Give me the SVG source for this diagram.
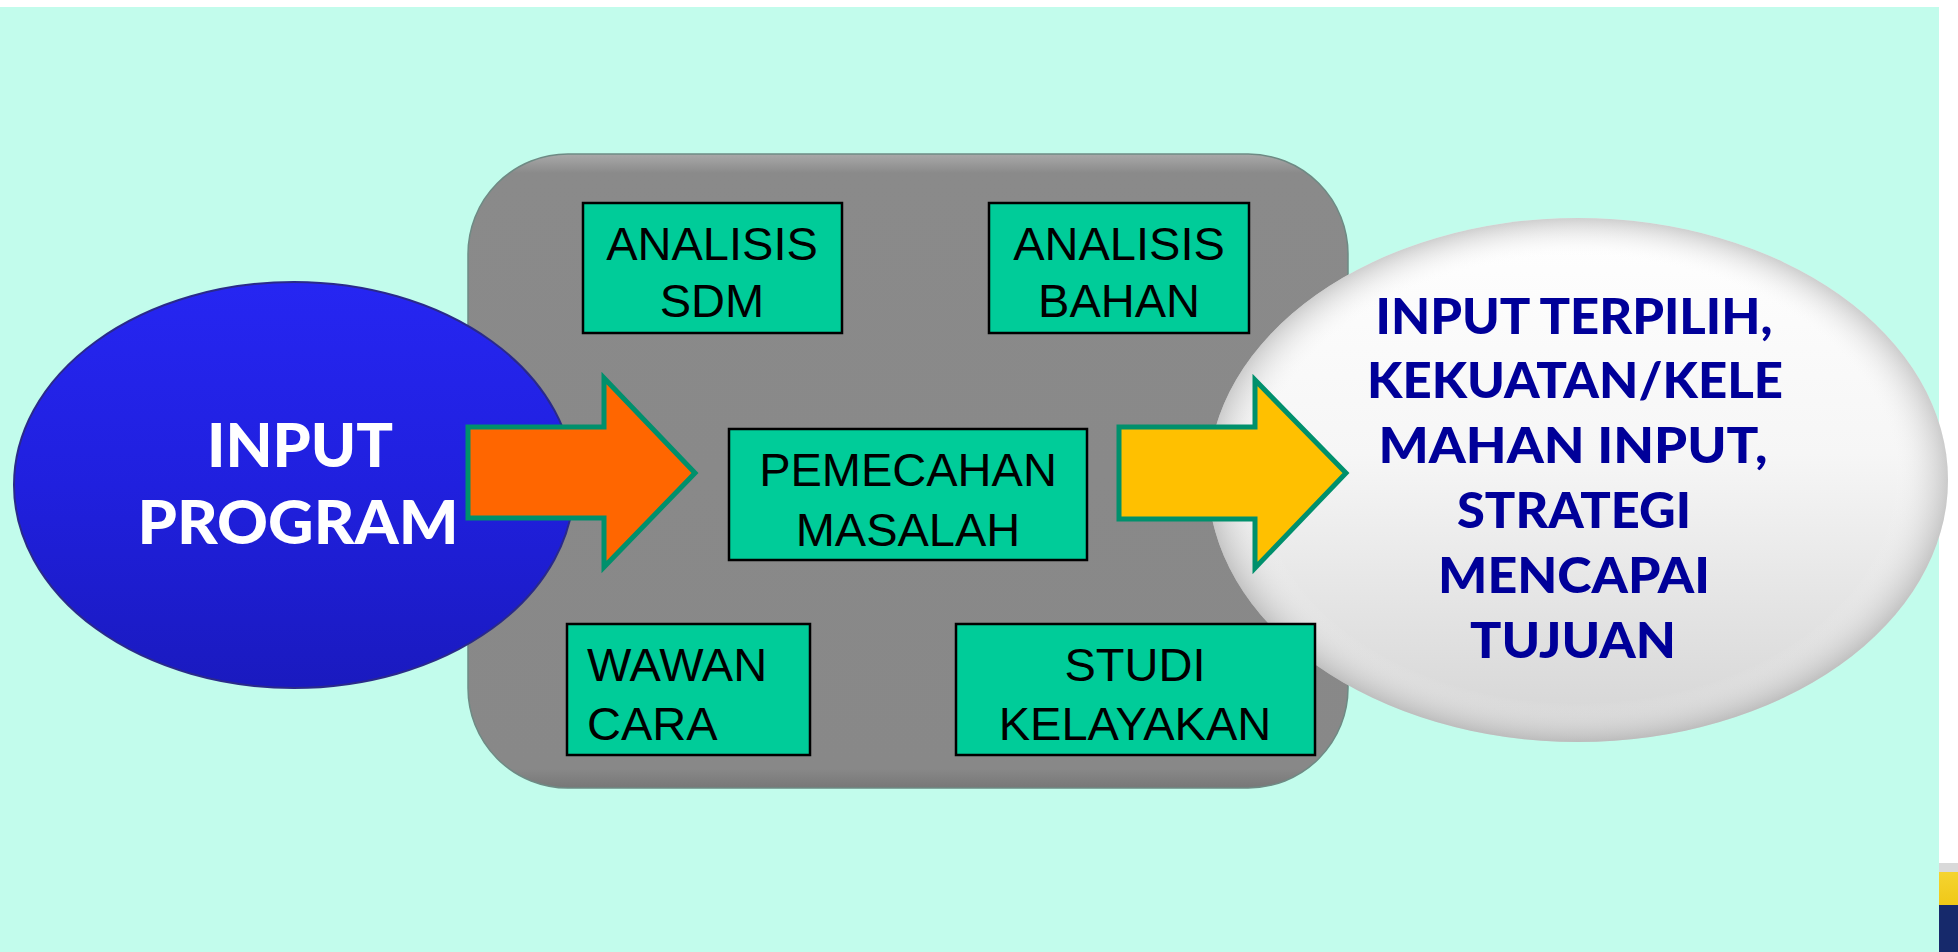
<svg xmlns="http://www.w3.org/2000/svg" width="1958" height="952" viewBox="0 0 1958 952">
<defs>
<linearGradient id="gBlue" x1="0" y1="0" x2="0" y2="1">
<stop offset="0" stop-color="#2626f2"/>
<stop offset="0.5" stop-color="#2020de"/>
<stop offset="1" stop-color="#1a1abf"/>
</linearGradient>
<linearGradient id="gWhite" x1="0" y1="0" x2="0" y2="1">
<stop offset="0" stop-color="#ffffff"/>
<stop offset="0.45" stop-color="#f6f6f6"/>
<stop offset="1" stop-color="#d4d4d4"/>
</linearGradient>
<radialGradient id="gWhiteEdge" cx="0.5" cy="0.5" r="0.5">
<stop offset="0.85" stop-color="#ffffff" stop-opacity="0"/>
<stop offset="1" stop-color="#a8a8a8" stop-opacity="0.55"/>
</radialGradient>
<linearGradient id="gGray" x1="0" y1="0" x2="0" y2="1">
<stop offset="0" stop-color="#a9a9a9"/>
<stop offset="0.03" stop-color="#8a8a8a"/>
<stop offset="0.97" stop-color="#888888"/>
<stop offset="1" stop-color="#777777"/>
</linearGradient>
<linearGradient id="gYellowStrip" x1="0" y1="0" x2="0" y2="1">
<stop offset="0" stop-color="#f5d430"/>
<stop offset="1" stop-color="#f0c818"/>
</linearGradient>
<style>
.box{fill:#00cc99;stroke:#000000;stroke-width:2.5}
.bt{font-family:"Liberation Sans",Arial,sans-serif;font-size:47px;fill:#000000;text-anchor:middle}
.arrow{stroke:#00906c;stroke-width:5;stroke-linejoin:miter}
.wt{font-family:Lato,"Liberation Sans",sans-serif;font-weight:900;font-size:61px;fill:#ffffff;text-anchor:middle}
.nt{font-family:Lato,"Liberation Sans",sans-serif;font-weight:900;font-size:50px;fill:#000099;text-anchor:middle}
</style>
</defs>
<rect x="0" y="0" width="1958" height="952" fill="#c2fcec"/>
<rect x="0" y="0" width="1958" height="7" fill="#ffffff"/>
<rect x="1939" y="0" width="19" height="952" fill="#ffffff"/>
<rect x="1939" y="863" width="19" height="9" fill="#d9d9d9"/>
<rect x="1939" y="872" width="19" height="33" fill="url(#gYellowStrip)"/>
<rect x="1939" y="905" width="19" height="47" fill="#16296b"/>

<g id="panel">
<rect x="468" y="154" width="880" height="634" rx="100" ry="100" fill="url(#gGray)" stroke="#6e8a84" stroke-width="1.5"/>
</g>

<g id="input-program">
<ellipse cx="294" cy="485" rx="280" ry="203" fill="url(#gBlue)" stroke="#2a2a8a" stroke-width="2"/>
<text class="wt" x="300" y="467" textLength="186" lengthAdjust="spacingAndGlyphs">INPUT</text>
<text class="wt" x="298" y="544" textLength="321" lengthAdjust="spacingAndGlyphs">PROGRAM</text>
</g>

<g id="output">
<ellipse cx="1578" cy="480" rx="370" ry="262" fill="url(#gWhite)"/>
<ellipse cx="1578" cy="480" rx="370" ry="262" fill="url(#gWhiteEdge)"/>
<text class="nt" x="1574" y="334" textLength="397" lengthAdjust="spacingAndGlyphs">INPUT TERPILIH,</text>
<text class="nt" x="1575" y="398" textLength="416" lengthAdjust="spacingAndGlyphs">KEKUATAN/KELE</text>
<text class="nt" x="1573" y="463" textLength="389" lengthAdjust="spacingAndGlyphs">MAHAN INPUT,</text>
<text class="nt" x="1574" y="528" textLength="234" lengthAdjust="spacingAndGlyphs">STRATEGI</text>
<text class="nt" x="1574" y="593" textLength="272" lengthAdjust="spacingAndGlyphs">MENCAPAI</text>
<text class="nt" x="1573" y="658" textLength="206" lengthAdjust="spacingAndGlyphs">TUJUAN</text>
</g>

<g id="analisis-sdm">
<rect class="box" x="583" y="203" width="259" height="130"/>
<text class="bt" x="712" y="260">ANALISIS</text>
<text class="bt" x="712" y="317">SDM</text>
</g>

<g id="analisis-bahan">
<rect class="box" x="989" y="203" width="260" height="130"/>
<text class="bt" x="1119" y="260">ANALISIS</text>
<text class="bt" x="1119" y="317">BAHAN</text>
</g>

<g id="pemecahan-masalah">
<rect class="box" x="729" y="429" width="358" height="131"/>
<text class="bt" x="908" y="486">PEMECAHAN</text>
<text class="bt" x="908" y="546">MASALAH</text>
</g>

<g id="wawan-cara">
<rect class="box" x="567" y="624" width="243" height="131"/>
<text class="bt" x="587" y="681" style="text-anchor:start">WAWAN</text>
<text class="bt" x="587" y="740" style="text-anchor:start">CARA</text>
</g>

<g id="studi-kelayakan">
<rect class="box" x="956" y="624" width="359" height="131"/>
<text class="bt" x="1135" y="681">STUDI</text>
<text class="bt" x="1135" y="740">KELAYAKAN</text>
</g>

<g id="connectors">
<polygon class="arrow" fill="#ff6600" points="468,427 604,427 604,378 695,473 604,567 604,518 468,518"/>
<polygon class="arrow" fill="#ffc000" points="1119,427 1255,427 1255,380 1346,473 1255,568 1255,519 1119,519"/>
</g>
</svg>
